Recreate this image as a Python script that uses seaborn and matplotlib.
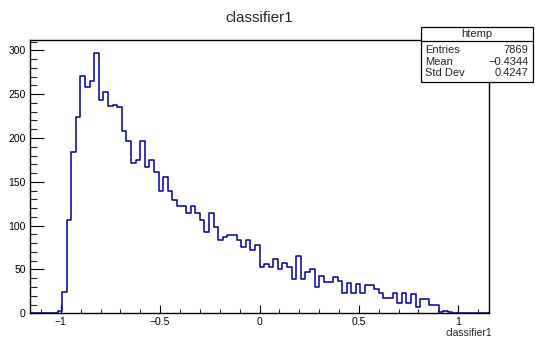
import numpy as np
import pandas as pd
import matplotlib
matplotlib.use("Agg")
import matplotlib.pyplot as plt
import seaborn as sns
from matplotlib.patches import Rectangle
from matplotlib.lines import Line2D
from matplotlib.ticker import MultipleLocator

# ---- data ----
x_min, x_max, n_bins = -1.155, 1.155, 100
first_bin = 6
counts = [3, 24, 107, 184, 224, 271, 258, 265, 297,
          243, 253, 237, 238, 235, 208, 197, 172, 175, 197,
          167, 175, 161, 139, 156, 139, 129, 122, 122, 115,
          122, 115, 106, 93, 115, 99, 84, 87, 89, 89,
          84, 76, 84, 72, 78, 53, 56, 53, 62, 51,
          57, 53, 39, 65, 39, 47, 50, 30, 42, 36,
          36, 41, 37, 23, 35, 23, 34, 23, 32, 32,
          28, 23, 18, 18, 23, 12, 23, 12, 22, 7,
          16, 16, 9, 9, 1, 3, 1]
title = "classifier1"
x_label = "classifier1"
x_ticks = [-1, -0.5, 0, 0.5, 1]
x_tick_labels = ["\u22121", "\u22120.5", "0", "0.5", "1"]
y_ticks = [0, 50, 100, 150, 200, 250, 300]
y_tick_labels = ["0", "50", "100", "150", "200", "250", "300"]
stats_name = "htemp"
stats_labels = ["Entries", "Mean", "Std Dev"]
stats_values = ["7869", "\u22120.4344", "0.4247"]

sns.set_style("white")
plt.rcParams["font.family"] = ["Liberation Sans", "DejaVu Sans"]

edges = np.linspace(x_min, x_max, n_bins + 1)
centers = (edges[:-1] + edges[1:]) / 2
w = np.zeros(n_bins)
w[first_bin:first_bin + len(counts)] = counts
df = pd.DataFrame({"x": centers, "w": w})

W, H = 535, 339
fig = plt.figure(figsize=(W / 100, H / 100), dpi=100)
ax = fig.add_axes([30 / W, 25.7 / H, 459 / W, 273.3 / H])
sns.histplot(data=df, x="x", weights="w", bins=n_bins, binrange=(x_min, x_max),
             element="step", fill=False, color="#000099", linewidth=1.1, ax=ax)
ax.set_xlim(x_min, x_max)
ax.set_ylim(0, max(counts) * 1.05)
ax.set_xlabel("")
ax.set_ylabel("")
for s in ax.spines.values():
    s.set_color("black")
    s.set_linewidth(1.0)
ax.set_xticks(x_ticks)
ax.set_xticklabels(x_tick_labels)
ax.set_yticks(y_ticks)
ax.set_yticklabels(y_tick_labels)
ax.xaxis.set_minor_locator(MultipleLocator(0.1))
ax.yaxis.set_minor_locator(MultipleLocator(10))
ax.tick_params(axis="x", which="major", direction="in", length=6, width=0.8,
               labelsize=7.5, pad=2.5, colors="black", bottom=True, top=False)
ax.tick_params(axis="x", which="minor", direction="in", length=3, width=0.8,
               bottom=True, top=False)
ax.tick_params(axis="y", which="major", direction="in", length=10, width=0.8,
               labelsize=7.5, pad=3, colors="black", left=True, right=False)
ax.tick_params(axis="y", which="minor", direction="in", length=5, width=0.8,
               left=True, right=False)
ax.grid(False)

fig.text(259.5 / W, 1 - 18 / H, title, ha="center", va="center", fontsize=11)
fig.text(492 / W, 1 - 333 / H, x_label, ha="right", va="center", fontsize=7.5)

# stats box
bx0, bx1, by0, by1 = 420.7, 532.7, 27.3, 82.0
fig.add_artist(Rectangle((bx0 / W, 1 - by1 / H), (bx1 - bx0) / W, (by1 - by0) / H,
                         transform=fig.transFigure, facecolor="white",
                         edgecolor="black", linewidth=0.9, zorder=10))
fig.add_artist(Line2D([bx0 / W, bx1 / W], [1 - 40.5 / H, 1 - 40.5 / H],
                      transform=fig.transFigure, color="black", linewidth=0.9, zorder=11))
fig.text((bx0 + bx1) / 2 / W, 1 - 34 / H, stats_name, ha="center", va="center",
         fontsize=8, zorder=12)
for i, (lab, val) in enumerate(zip(stats_labels, stats_values)):
    yy = 1 - (50 + 11.7 * i) / H
    fig.text(425 / W, yy, lab, ha="left", va="center", fontsize=8, zorder=12)
    fig.text(528.5 / W, yy, val, ha="right", va="center", fontsize=8, zorder=12)

fig.savefig("out.png", dpi=100)
